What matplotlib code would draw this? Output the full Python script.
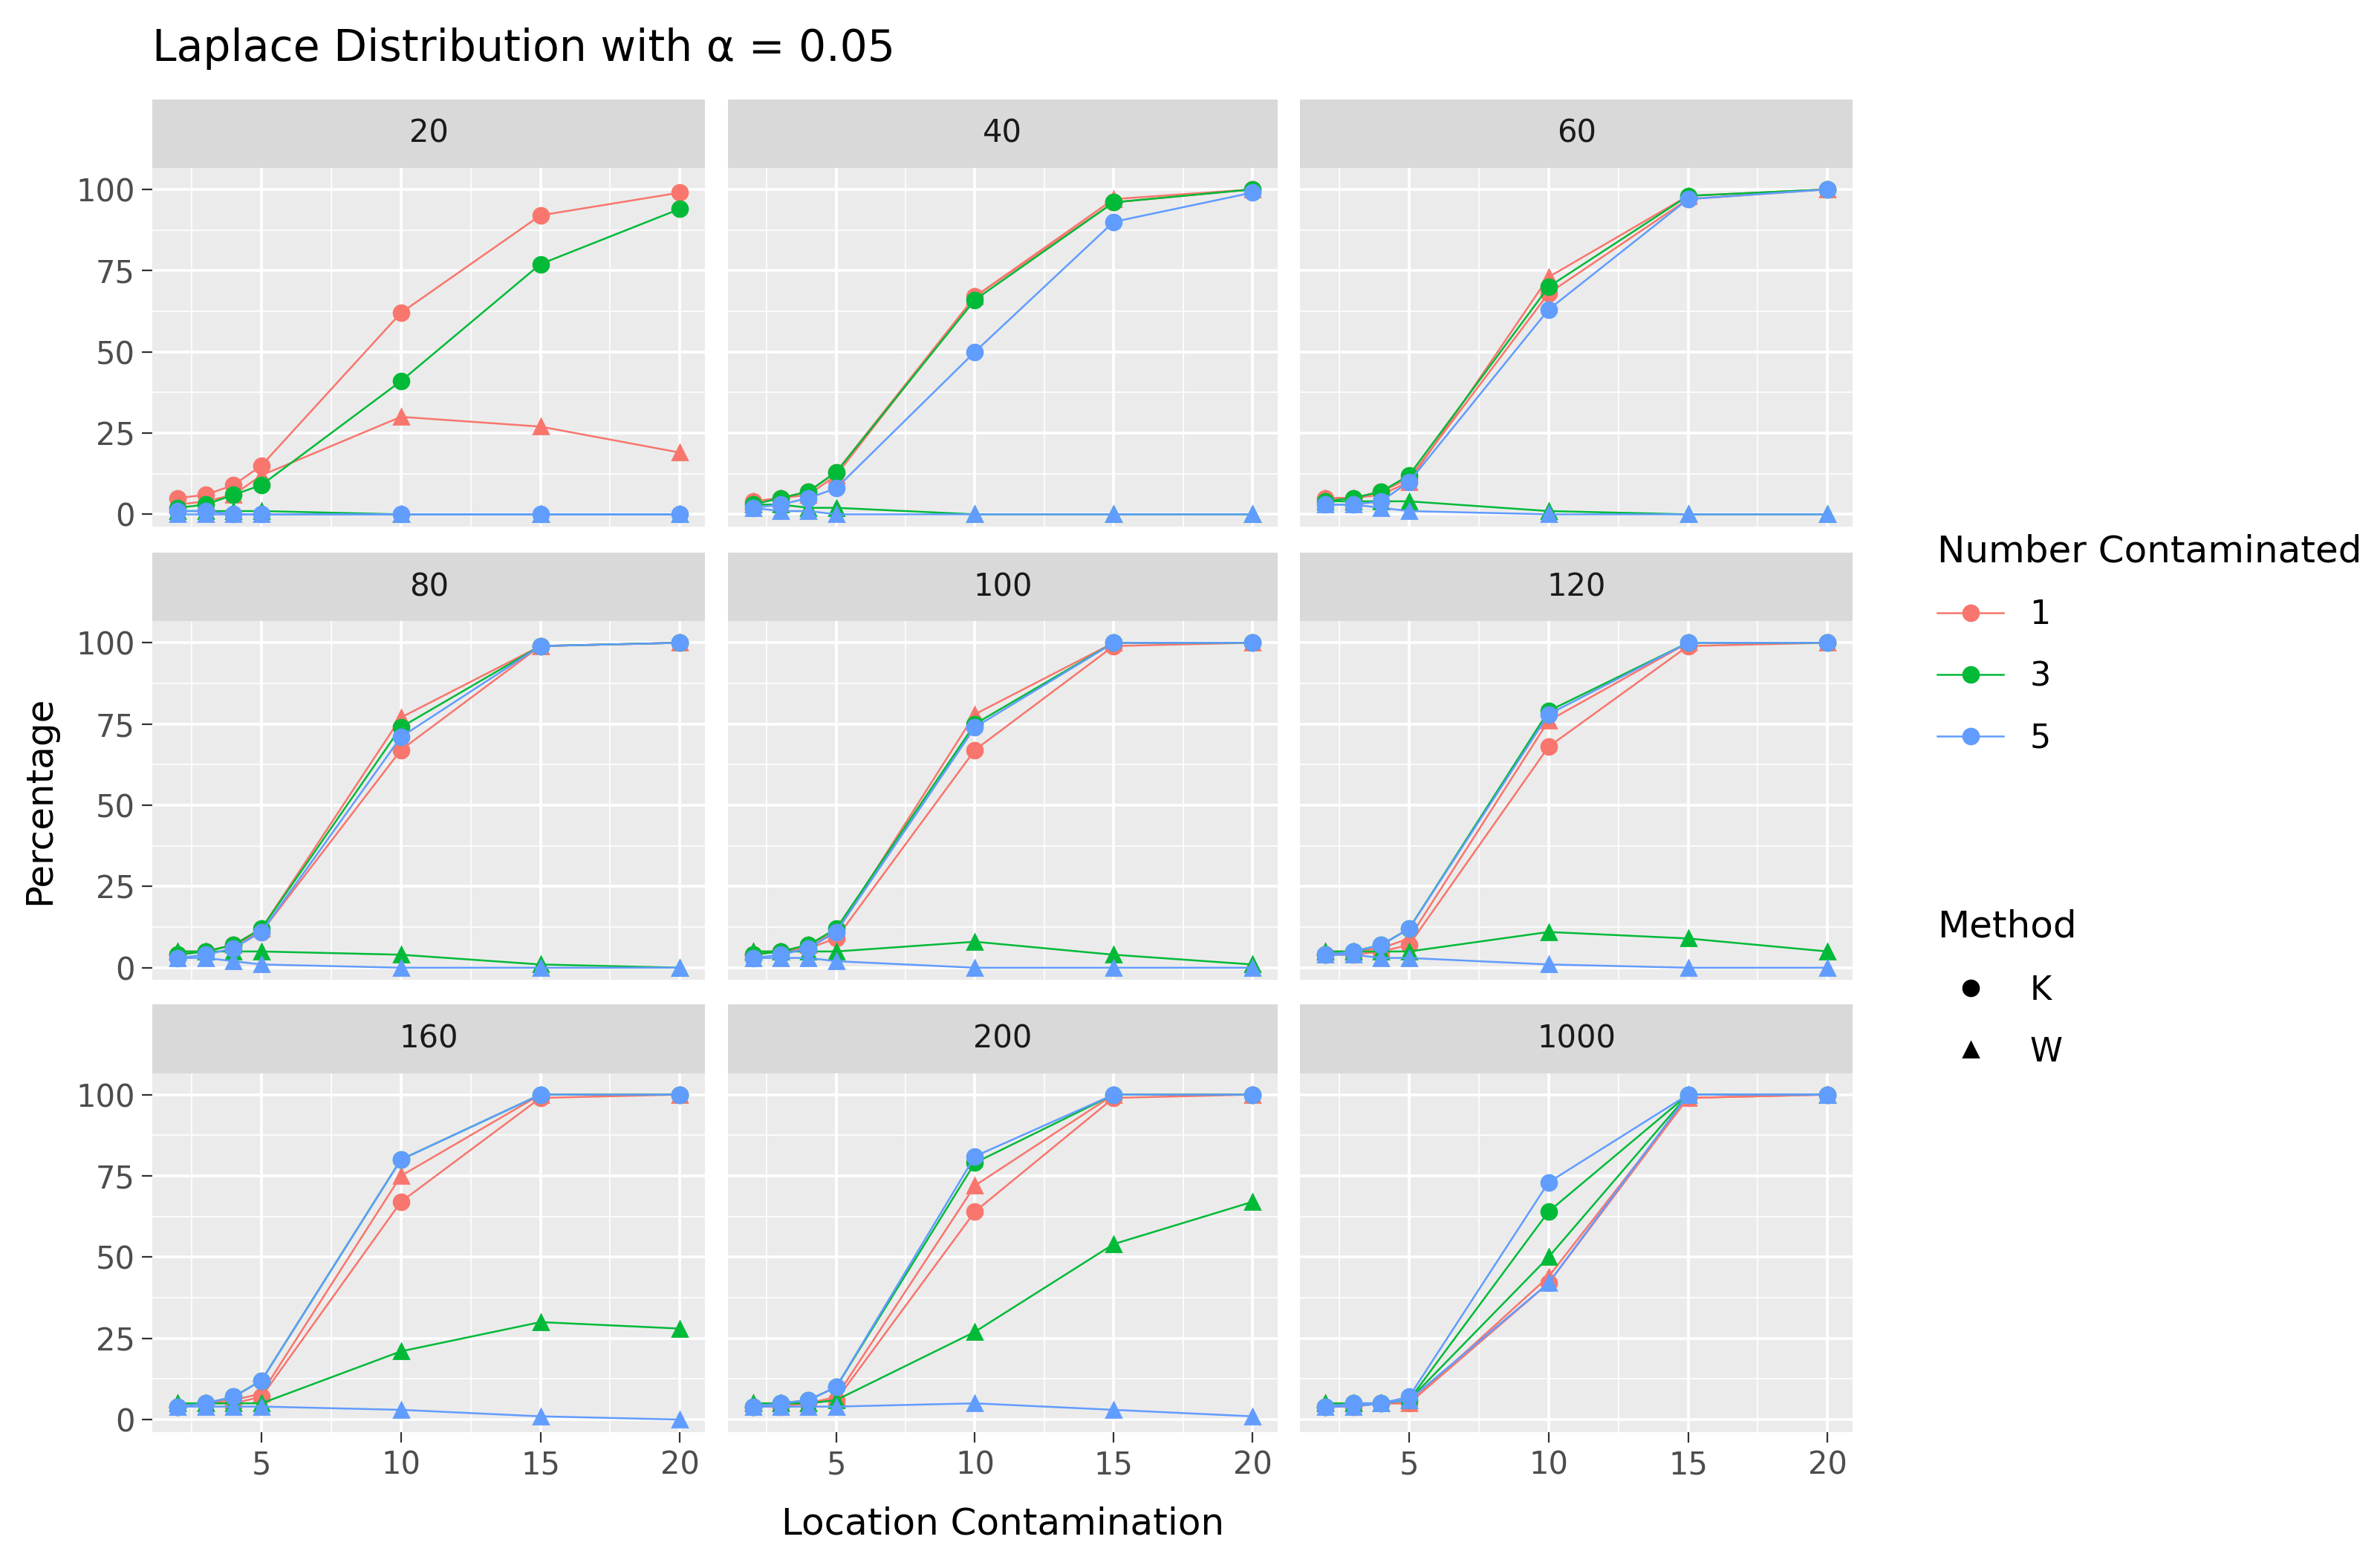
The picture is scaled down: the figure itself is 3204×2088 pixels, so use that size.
import matplotlib
matplotlib.use("Agg")
import matplotlib.pyplot as plt
from matplotlib.lines import Line2D

x = [2, 3, 4, 5, 10, 15, 20]
panels = ["20", "40", "60", "80", "100", "120", "160", "200", "1000"]
groups = ["1", "3", "5"]
colors = {"1": "#F8766D", "3": "#00BA38", "5": "#619CFF"}

K = {
 "20":  {"1": [5,6,9,15,62,92,99], "3": [2,3,6,9,41,77,94], "5": [1,1,0,0,0,0,0]},
 "40":  {"1": [4,5,7,13,67,96,100], "3": [3,5,7,13,66,96,100], "5": [2,3,5,8,50,90,99]},
 "60":  {"1": [5,5,7,11,68,97,100], "3": [4,5,7,12,70,98,100], "5": [3,3,4,10,63,97,100]},
 "80":  {"1": [4,5,7,11,67,99,100], "3": [4,5,7,12,74,99,100], "5": [3,4,6,11,71,99,100]},
 "100": {"1": [4,5,6,9,67,99,100], "3": [4,5,7,12,75,100,100], "5": [3,4,6,11,74,100,100]},
 "120": {"1": [4,4,5,7,68,99,100], "3": [4,5,7,12,79,100,100], "5": [4,5,7,12,78,100,100]},
 "160": {"1": [4,5,5,7,67,99,100], "3": [4,5,7,12,80,100,100], "5": [4,5,7,12,80,100,100]},
 "200": {"1": [4,4,5,6,64,99,100], "3": [4,5,6,10,79,100,100], "5": [4,5,6,10,81,100,100]},
 "1000":{"1": [4,4,5,5,42,99,100], "3": [4,5,5,6,64,100,100], "5": [4,5,5,7,73,100,100]},
}
W = {
 "20":  {"1": [3,4,6,12,30,27,19], "3": [1,1,1,1,0,0,0], "5": [0,0,0,0,0,0,0]},
 "40":  {"1": [4,5,6,12,67,97,100], "3": [3,3,2,2,0,0,0], "5": [2,1,1,0,0,0,0]},
 "60":  {"1": [5,5,6,10,73,98,100], "3": [4,4,4,4,1,0,0], "5": [3,3,2,1,0,0,0]},
 "80":  {"1": [5,5,7,12,77,99,100], "3": [5,5,5,5,4,1,0], "5": [3,3,2,1,0,0,0]},
 "100": {"1": [5,5,7,11,78,100,100], "3": [5,5,5,5,8,4,1], "5": [3,3,3,2,0,0,0]},
 "120": {"1": [5,5,6,9,76,100,100], "3": [5,5,5,5,11,9,5], "5": [4,4,3,3,1,0,0]},
 "160": {"1": [5,5,6,8,75,100,100], "3": [5,5,5,5,21,30,28], "5": [4,4,4,4,3,1,0]},
 "200": {"1": [5,5,5,7,72,100,100], "3": [5,5,5,6,27,54,67], "5": [4,4,4,4,5,3,1]},
 "1000":{"1": [5,5,5,5,44,99,100], "3": [5,5,5,6,50,100,100], "5": [4,4,5,6,42,100,100]},
}

RW, RH = 1560.0, 1016.0
fig = plt.figure(figsize=(16.025, 10.44), dpi=200)
fig.patch.set_facecolor("white")

col_l = [100, 477, 852]
col_r = [462, 837, 1214]
strip_t = [65, 362, 658]
strip_b = [110, 407, 703]
pan_b = [345, 642, 938]

def frac(l, t, r, b):
    return [l / RW, 1 - b / RH, (r - l) / RW, (b - t) / RH]

for i, p in enumerate(panels):
    r, c = divmod(i, 3)
    ax = fig.add_axes(frac(col_l[c], strip_b[r], col_r[c], pan_b[r]))
    ax.set_facecolor("#EBEBEB")
    ax.set_xlim(1.1, 20.9)
    ax.set_ylim(-3.8, 106.6)
    ax.set_xticks([5, 10, 15, 20])
    ax.set_yticks([0, 25, 50, 75, 100])
    ax.set_xticks([2.5, 7.5, 12.5, 17.5], minor=True)
    ax.set_yticks([12.5, 37.5, 62.5, 87.5], minor=True)
    ax.grid(True, which="major", color="white", lw=1.3)
    ax.grid(True, which="minor", color="white", lw=0.6)
    ax.set_axisbelow(True)
    for s in ax.spines.values():
        s.set_visible(False)
    ax.tick_params(which="both", length=0)
    ax.tick_params(which="major", color="#333333", labelsize=15, labelcolor="#4D4D4D")
    ax.tick_params(axis="x", which="major", length=5 if r == 2 else 0, labelbottom=(r == 2))
    ax.tick_params(axis="y", which="major", length=5 if c == 0 else 0, labelleft=(c == 0))
    for g in groups:
        ax.plot(x, K[p][g], color=colors[g], lw=0.9, marker="o", ms=7.5, zorder=3)
        ax.plot(x, W[p][g], color=colors[g], lw=0.9, marker="^", ms=7.5, zorder=3)
    sax = fig.add_axes(frac(col_l[c], strip_t[r], col_r[c], strip_b[r]))
    sax.set_facecolor("#D9D9D9")
    sax.set_xticks([]); sax.set_yticks([])
    for s in sax.spines.values():
        s.set_visible(False)
    sax.text(0.5, 0.5, p, ha="center", va="center", fontsize=15, color="#1A1A1A", transform=sax.transAxes)

fig.text(100 / RW, 1 - 32 / RH, "Laplace Distribution with α = 0.05", fontsize=21, va="center", ha="left")
fig.text(657 / RW, 1 - 998 / RH, "Location Contamination", fontsize=18, ha="center", va="center")
fig.text(26 / RW, 1 - 524 / RH, "Percentage", fontsize=18, rotation=90, ha="center", va="center")

h1 = [Line2D([], [], color=colors[g], marker="o", lw=0.9, ms=7.5) for g in groups]
fig.legend(h1, groups, title="Number Contaminated", loc="upper left",
           bbox_to_anchor=(1250 / RW, 1 - 330 / RH), frameon=False,
           fontsize=16, title_fontsize=18, handlelength=2, labelspacing=0.9, alignment="left")
h2 = [Line2D([], [], color="black", marker=m, lw=0, ms=7.5) for m in ["o", "^"]]
fig.legend(h2, ["K", "W"], title="Method", loc="upper left",
           bbox_to_anchor=(1250 / RW, 1 - 576 / RH), frameon=False,
           fontsize=16, title_fontsize=18, handlelength=2, labelspacing=0.9, alignment="left")

fig.savefig("out.png", dpi=200)
